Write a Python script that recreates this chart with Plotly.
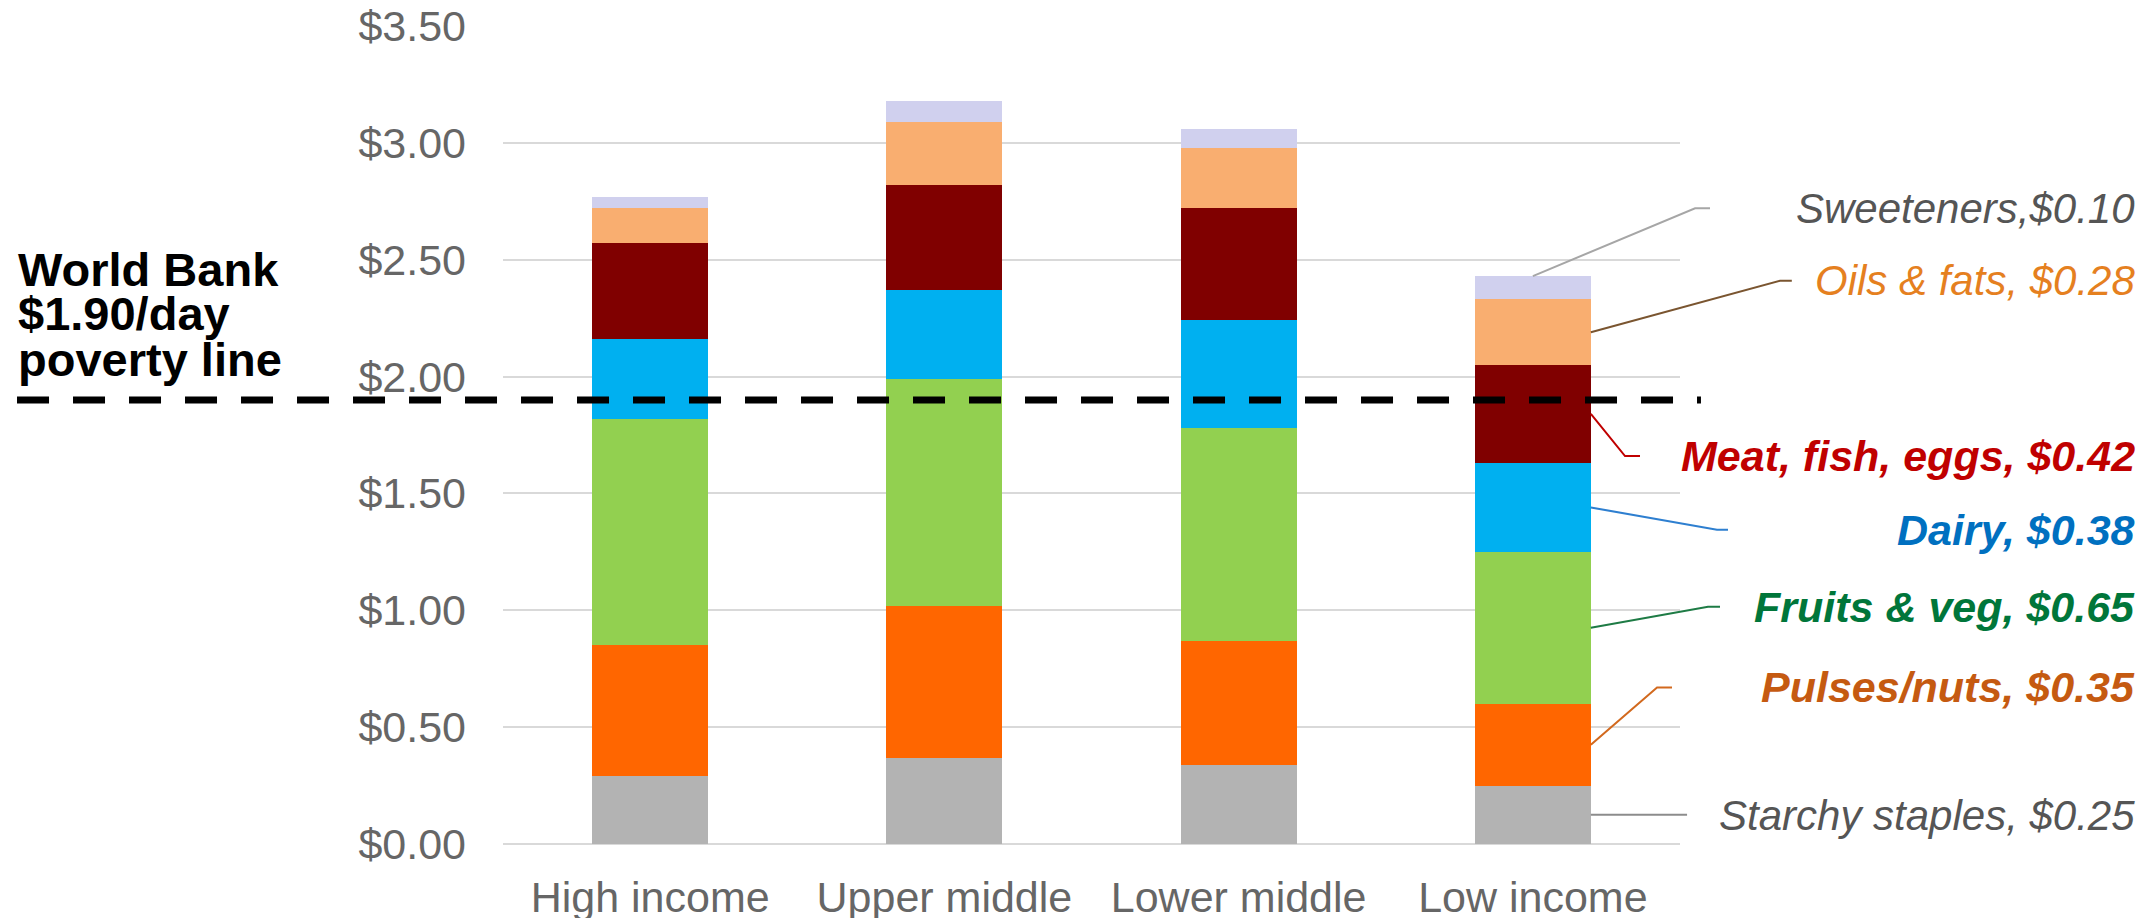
import plotly.graph_objects as go

# Daily cost of the least-cost diet, by country income group (US$/day)
incomes = ["High income", "Upper middle", "Lower middle", "Low income"]
food_groups = ["Starchy staples", "Pulses/nuts", "Fruits & veg", "Dairy",
               "Meat, fish, eggs", "Oils & fats", "Sweeteners"]

starchy = [0.29, 0.37, 0.34, 0.25]
pulses = [0.56, 0.65, 0.53, 0.35]
fruits_veg = [0.97, 0.97, 0.91, 0.65]
dairy = [0.34, 0.38, 0.46, 0.38]
meat = [0.41, 0.45, 0.48, 0.42]
oils = [0.15, 0.27, 0.26, 0.28]
sweeteners = [0.05, 0.09, 0.08, 0.10]

poverty_line = 1.90
y_ticks = [0.0, 0.5, 1.0, 1.5, 2.0, 2.5, 3.0, 3.5]
y_tick_labels = [f"${v:.2f}" for v in y_ticks]

series = [starchy, pulses, fruits_veg, dairy, meat, oils, sweeteners]
bar_colors = ["#B3B3B3", "#FF6600", "#92D050", "#00B0F0", "#800000", "#F9AE70", "#D0D0EE"]

# callout styling for the low-income bar (bottom to top)
label_sep = [", ", ", ", ", ", ", ", ", ", ", ", ","]
label_colors = ["#555555", "#C55A11", "#00763A", "#0070C0", "#C00000", "#E5801F", "#555555"]
label_bold = [False, True, True, True, True, False, False]
label_size = [42, 43, 43, 43, 43, 42, 42]
leader_colors = ["#8C8C8C", "#D2691E", "#1E7B45", "#2E7FD0", "#C00000", "#7A5530", "#A6A6A6"]
label_y = [0.12, 0.67, 1.015, 1.345, 1.66, 2.41, 2.72]
elbow_x = [None, 0.9805, 1.0238, 1.0314, 0.9533, 1.085, 1.0128]
end_x = [1.006, 0.9932, 1.034, 1.0408, 0.966, 1.095, 1.0255]

BARGAP = 0.606
X_RANGE = [-0.5, len(incomes) - 0.5]
FONT = "Liberation Sans, Arial, sans-serif"
AXIS_GREY = "#666666"


def x_to_paper(xv):
    return (xv - X_RANGE[0]) / (X_RANGE[1] - X_RANGE[0])


fig = go.Figure()
for name, vals, col in zip(food_groups, series, bar_colors):
    fig.add_trace(go.Bar(x=incomes, y=vals, name=name, marker=dict(color=col, line=dict(width=0))))

# leader lines and callouts for the low-income bar
low = len(incomes) - 1
bar_right = x_to_paper(low + (1 - BARGAP) / 2)
bar_mid = x_to_paper(low)
annotations = []
shapes = []
base = 0.0
for i, name in enumerate(food_groups):
    v = series[i][low]
    if i == len(food_groups) - 1:
        sx, sy = bar_mid, base + v
    else:
        sx, sy = bar_right, base + v / 2
    if elbow_x[i] is None:
        path = f"M {sx},{sy} L {end_x[i]},{sy}"
    else:
        path = f"M {sx},{sy} L {elbow_x[i]},{label_y[i]} L {end_x[i]},{label_y[i]}"
    shapes.append(dict(type="path", xref="paper", yref="y", path=path,
                       line=dict(color=leader_colors[i], width=2)))
    annotations.append(dict(
        xref="paper", yref="y", x=1.388, y=label_y[i], xanchor="right", yanchor="middle",
        text=f"{name}{label_sep[i]}${v:.2f}", showarrow=False,
        font=dict(family=FONT, size=label_size[i], color=label_colors[i], style="italic",
                  weight="bold" if label_bold[i] else "normal")))
    base += v

# poverty line
shapes.append(dict(type="line", xref="paper", yref="y", x0=-0.4129, x1=1.0178,
                   y0=poverty_line, y1=poverty_line,
                   line=dict(color="black", width=7, dash="32px,24px")))
for txt, yv in zip(["World Bank", "$1.90/day", "poverty line"], [2.46, 2.27, 2.075]):
    annotations.append(dict(xref="paper", yref="y", x=-0.4129, y=yv, xanchor="left", yanchor="middle",
                            text=txt, showarrow=False, borderpad=0,
                            font=dict(family=FONT, size=47, color="black", weight="bold")))

fig.update_layout(
    barmode="stack",
    bargap=BARGAP,
    width=2156, height=918,
    margin=dict(l=503, r=476, t=26, b=74),
    paper_bgcolor="white", plot_bgcolor="white",
    showlegend=False,
    shapes=shapes,
    annotations=annotations,
    font=dict(family=FONT),
)
fig.update_xaxes(range=X_RANGE, showgrid=False, showline=False, ticks="", automargin=False,
                 tickfont=dict(family=FONT, size=43, color=AXIS_GREY), ticklabelstandoff=24)
fig.update_yaxes(range=[0, 3.5], tickvals=y_ticks, ticktext=y_tick_labels, automargin=False,
                 showgrid=True, gridcolor="#D9D9D9", gridwidth=2,
                 zeroline=True, zerolinecolor="#D9D9D9", zerolinewidth=2,
                 showline=False, ticks="",
                 tickfont=dict(family=FONT, size=43, color=AXIS_GREY), ticklabelstandoff=36)

fig.write_html("out.html")
